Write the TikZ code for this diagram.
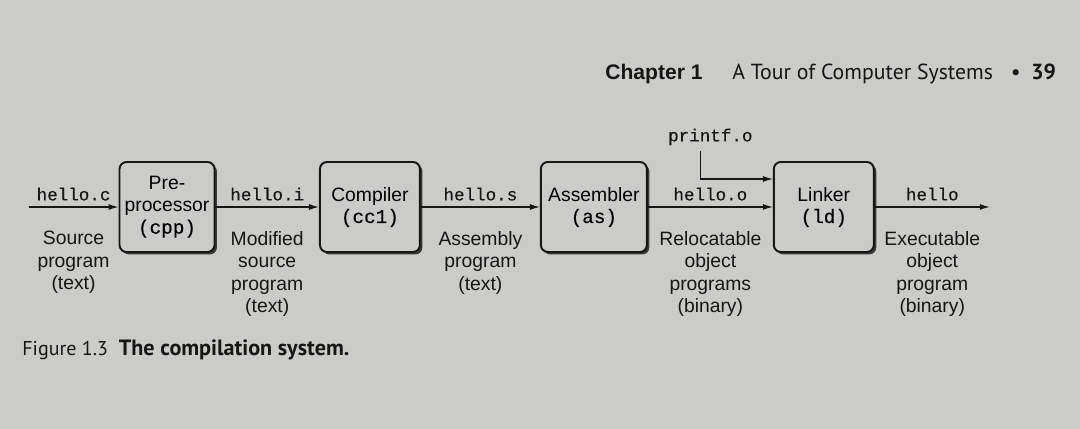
\documentclass[tikz,border=0pt]{standalone}
\usepackage{fontspec}
\setmainfont{Liberation Sans}
\setmonofont[FakeBold=0.4]{Liberation Mono}
\newfontfamily\headfont{PT Sans}
\usetikzlibrary{positioning, shadows, arrows.meta}

\definecolor{paper}{RGB}{203,203,199}
\definecolor{ink}{RGB}{22,22,24}

\tikzset{
  stage/.style={draw=ink, fill=paper, line width=1.1pt, rounded corners=4pt,
                minimum height=1.8cm, minimum width=2cm, align=center, inner sep=1pt,
                font=\fontsize{11}{12.5}\selectfont,
                drop shadow={shadow xshift=1.4pt, shadow yshift=-1.4pt, fill=ink!85, opacity=1}},
  file/.style={font=\fontsize{10}{12}\selectfont\ttfamily, text=ink},
  desc/.style={align=center, font=\fontsize{11}{12.8}\selectfont, text=ink, below=0.36cm},
  flow/.style={draw=ink, line width=0.65pt, -{Latex[length=2mm, width=1.2mm]}},
  head/.style={inner sep=0, text=ink, font=\fontsize{12.4}{14}\headfont}
}

\begin{document}
\begin{tikzpicture}
    \fill[paper] (0,0) rectangle (21.6,8.58);
    \useasboundingbox (0,0) rectangle (21.6,8.58);

    % running head
    \node[head, anchor=base west, font=\fontsize{12}{14}\selectfont\bfseries] (chap) at (12.1,6.98) {Chapter 1};
    \node[head, base right=0.58cm of chap] (title) {A Tour of Computer Systems};
    \node[head, base right=0.34cm of title] (dot) {•};
    \node[head, base right=0.2cm of dot, font=\fontsize{12.4}{14}\headfont\bfseries] (page) {39};

    % the stages
    \node[stage, minimum width=1.9cm] (cpp) at (3.34,4.44) {Pre-\\processor\\\texttt{(cpp)}};
    \node[stage, right=2.07cm of cpp] (cc) {Compiler\\\texttt{(cc1)}};
    \node[stage, minimum width=2.12cm, right=2.38cm of cc] (as) {Assembler\\\texttt{(as)}};
    \node[stage, right=2.5cm of as] (ld) {Linker\\\texttt{(ld)}};

    \coordinate[left=1.8cm of cpp] (src);
    \coordinate[right=2.3cm of ld] (exe);

    \draw[flow] (src) -- (cpp) node[file, midway, above] (hc) {hello.c}
                               node[desc, midway] (hcdesc) {Source\\program\\(text)};
    \draw[flow] (cpp) -- (cc) node[file, midway, above] (hi) {hello.i}
                              node[desc, midway] (hidesc) {Modified\\source\\program\\(text)};
    \draw[flow] (cc) -- (as) node[file, midway, above] (hs) {hello.s}
                             node[desc, midway] (hsdesc) {Assembly\\program\\(text)};
    \draw[flow] (as) -- (ld) node[file, midway, above] (ho) {hello.o}
                             node[desc, midway] (hodesc) {Relocatable\\object\\programs\\(binary)};
    \draw[flow] (ld) -- (exe) node[file, midway, above] (hx) {hello}
                              node[desc, midway] (hxdesc) {Executable\\object\\program\\(binary)};

    \node[file, above=0.6cm of ho] (pf) {printf.o};
    \draw[flow] ([xshift=-0.2cm]pf.south) |- ([yshift=0.56cm]ld.west);

    % caption
    \node[head, anchor=base west, font=\fontsize{11.4}{14}\headfont] (fig) at (0.44,1.46) {Figure 1.3};
    \node[head, base right=0.2cm of fig, font=\fontsize{12.6}{14}\headfont\bfseries] (cap) {The compilation system.};
\end{tikzpicture}
\end{document}
